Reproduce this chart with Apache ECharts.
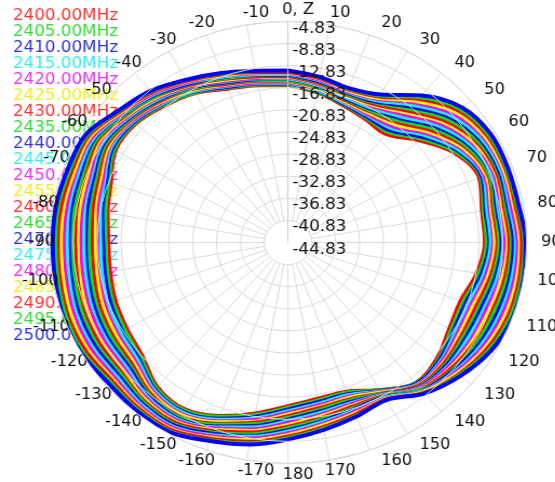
<!DOCTYPE html>
<html>
<head>
<meta charset="utf-8">
<script src="https://cdn.jsdelivr.net/npm/echarts@6/dist/echarts.min.js"></script>
<style>
html,body{margin:0;padding:0;background:#fff;overflow:hidden;}
#c{width:514px;height:482px;transform:scaleX(1.08);transform-origin:0 0;}
</style>
</head>
<body>
<div id="c"></div>
<script>
// angles (deg, clockwise from top)
const angles = [0,10,20,30,40,50,60,70,80,90,100,110,120,130,140,150,160,170,180,190,200,210,220,230,240,250,260,270,280,290,300,310,320,330,340,350];
const freqNames = ['2400.00MHz','2405.00MHz','2410.00MHz','2415.00MHz','2420.00MHz','2425.00MHz','2430.00MHz','2435.00MHz','2440.00MHz','2445.00MHz','2450.00MHz','2455.00MHz','2460.00MHz','2465.00MHz','2470.00MHz','2475.00MHz','2480.00MHz','2485.00MHz','2490.00MHz','2495.00MHz','2500.00MHz'];
const radialTicks = [-44.83,-40.83,-36.83,-32.83,-28.83,-24.83,-20.83,-16.83,-12.83,-8.83,-4.83];

const s2400 = [-16.4,-17.3,-18.4,-19.1,-19.3,-16.2,-12.6,-10.8,-11.9,-11.9,-12.8,-14.1,-13.7,-12.3,-11.7,-14.1,-16.2,-16.2,-15.3,-13.5,-11.5,-10.1,-10.8,-13.0,-13.7,-14.1,-14.6,-14.8,-14.2,-13.3,-11.5,-11.5,-12.6,-13.7,-15.3,-16.0];
const s2405 = [-16.3,-17.2,-18.2,-18.8,-18.8,-15.7,-12.3,-10.5,-11.6,-11.6,-12.4,-13.6,-13.3,-12.0,-11.6,-14.0,-16.0,-15.9,-15.0,-13.2,-11.3,-9.9,-10.5,-12.6,-13.3,-13.6,-14.1,-14.3,-13.8,-12.9,-11.2,-11.3,-12.4,-13.6,-15.1,-15.9];
const s2410 = [-16.1,-17.0,-18.1,-18.6,-18.4,-15.3,-11.9,-10.3,-11.3,-11.2,-12.0,-13.2,-12.9,-11.8,-11.5,-13.9,-15.7,-15.6,-14.7,-12.9,-11.0,-9.6,-10.2,-12.2,-12.8,-13.2,-13.7,-13.9,-13.3,-12.5,-10.9,-11.1,-12.2,-13.4,-15.0,-15.7];
const s2415 = [-16.0,-16.9,-17.9,-18.3,-17.9,-14.8,-11.6,-10.0,-11.0,-10.9,-11.6,-12.7,-12.5,-11.5,-11.3,-13.8,-15.5,-15.3,-14.4,-12.6,-10.8,-9.4,-10.0,-11.9,-12.4,-12.7,-13.2,-13.4,-12.9,-12.1,-10.6,-10.9,-12.1,-13.3,-14.8,-15.6];
const s2420 = [-15.9,-16.7,-17.7,-18.1,-17.5,-14.3,-11.2,-9.8,-10.6,-10.5,-11.2,-12.2,-12.1,-11.3,-11.2,-13.7,-15.2,-15.0,-14.1,-12.3,-10.5,-9.1,-9.7,-11.5,-11.9,-12.2,-12.7,-12.9,-12.4,-11.8,-10.3,-10.7,-11.9,-13.1,-14.7,-15.5];
const s2425 = [-15.7,-16.6,-17.6,-17.8,-17.0,-13.9,-10.9,-9.5,-10.3,-10.2,-10.8,-11.8,-11.7,-11.0,-11.1,-13.6,-15.0,-14.7,-13.8,-12.0,-10.3,-8.9,-9.4,-11.1,-11.5,-11.8,-12.3,-12.5,-12.0,-11.4,-10.1,-10.5,-11.7,-13.0,-14.5,-15.3];
const s2430 = [-15.6,-16.4,-17.4,-17.5,-16.5,-13.4,-10.5,-9.2,-10.0,-9.8,-10.4,-11.3,-11.3,-10.8,-11.0,-13.4,-14.7,-14.5,-13.5,-11.8,-10.0,-8.6,-9.1,-10.7,-11.0,-11.3,-11.8,-12.0,-11.6,-11.0,-9.8,-10.4,-11.5,-12.8,-14.4,-15.2];
const s2435 = [-15.5,-16.3,-17.2,-17.3,-16.1,-12.9,-10.2,-9.0,-9.7,-9.5,-10.0,-10.8,-10.9,-10.5,-10.8,-13.3,-14.5,-14.2,-13.2,-11.5,-9.8,-8.4,-8.8,-10.3,-10.6,-10.8,-11.3,-11.5,-11.1,-10.6,-9.5,-10.2,-11.3,-12.7,-14.2,-15.1];
const s2440 = [-15.3,-16.1,-17.1,-17.0,-15.6,-12.4,-9.8,-8.7,-9.4,-9.1,-9.6,-10.4,-10.5,-10.3,-10.7,-13.2,-14.2,-13.9,-12.9,-11.2,-9.5,-8.1,-8.6,-10.0,-10.1,-10.4,-10.8,-11.0,-10.7,-10.2,-9.2,-10.0,-11.2,-12.5,-14.1,-14.9];
const s2445 = [-15.2,-16.0,-16.9,-16.8,-15.2,-12.0,-9.5,-8.5,-9.1,-8.8,-9.2,-9.9,-10.1,-10.0,-10.6,-13.1,-14.0,-13.6,-12.6,-10.9,-9.3,-7.9,-8.3,-9.6,-9.7,-9.9,-10.4,-10.6,-10.2,-9.8,-8.9,-9.8,-11.0,-12.4,-13.9,-14.8];
const s2450 = [-15.0,-15.8,-16.7,-16.5,-14.7,-11.5,-9.1,-8.2,-8.8,-8.5,-8.8,-9.5,-9.6,-9.8,-10.5,-13.0,-13.8,-13.3,-12.3,-10.6,-9.1,-7.7,-8.0,-9.2,-9.3,-9.5,-9.9,-10.1,-9.8,-9.5,-8.6,-9.6,-10.8,-12.3,-13.8,-14.7];
const s2455 = [-14.9,-15.7,-16.6,-16.2,-14.2,-11.0,-8.8,-7.9,-8.4,-8.1,-8.4,-9.0,-9.2,-9.5,-10.3,-12.9,-13.5,-13.0,-11.9,-10.3,-8.8,-7.4,-7.7,-8.8,-8.8,-9.0,-9.4,-9.6,-9.4,-9.1,-8.3,-9.4,-10.6,-12.1,-13.6,-14.5];
const s2460 = [-14.8,-15.6,-16.4,-16.0,-13.8,-10.6,-8.4,-7.7,-8.1,-7.8,-8.0,-8.5,-8.8,-9.3,-10.2,-12.8,-13.3,-12.7,-11.6,-10.0,-8.6,-7.2,-7.4,-8.4,-8.4,-8.5,-9.0,-9.2,-8.9,-8.7,-8.0,-9.2,-10.4,-12.0,-13.4,-14.4];
const s2465 = [-14.6,-15.4,-16.3,-15.7,-13.3,-10.1,-8.1,-7.4,-7.8,-7.4,-7.6,-8.1,-8.4,-9.0,-10.1,-12.7,-13.0,-12.4,-11.3,-9.7,-8.3,-6.9,-7.2,-8.1,-7.9,-8.1,-8.5,-8.7,-8.5,-8.3,-7.7,-9.0,-10.3,-11.8,-13.3,-14.2];
const s2470 = [-14.5,-15.3,-16.1,-15.5,-12.9,-9.6,-7.7,-7.2,-7.5,-7.1,-7.2,-7.6,-8.0,-8.8,-9.9,-12.6,-12.8,-12.1,-11.0,-9.4,-8.1,-6.7,-6.9,-7.7,-7.5,-7.6,-8.0,-8.2,-8.0,-7.9,-7.4,-8.8,-10.1,-11.7,-13.1,-14.1];
const s2475 = [-14.4,-15.1,-15.9,-15.2,-12.4,-9.2,-7.4,-6.9,-7.2,-6.7,-6.8,-7.1,-7.6,-8.5,-9.8,-12.5,-12.5,-11.9,-10.7,-9.2,-7.8,-6.4,-6.6,-7.3,-7.0,-7.1,-7.6,-7.8,-7.6,-7.5,-7.2,-8.7,-9.9,-11.5,-13.0,-14.0];
const s2480 = [-14.2,-15.0,-15.8,-14.9,-11.9,-8.7,-7.0,-6.6,-6.9,-6.4,-6.4,-6.7,-7.2,-8.3,-9.7,-12.3,-12.3,-11.6,-10.4,-8.9,-7.6,-6.2,-6.3,-6.9,-6.6,-6.7,-7.1,-7.3,-7.2,-7.1,-6.9,-8.5,-9.7,-11.4,-12.8,-13.8];
const s2485 = [-14.1,-14.8,-15.6,-14.7,-11.5,-8.2,-6.7,-6.4,-6.5,-6.0,-6.0,-6.2,-6.8,-8.0,-9.6,-12.2,-12.0,-11.3,-10.1,-8.6,-7.3,-5.9,-6.0,-6.5,-6.1,-6.2,-6.6,-6.8,-6.7,-6.8,-6.6,-8.3,-9.5,-11.2,-12.7,-13.7];
const s2490 = [-14.0,-14.7,-15.4,-14.4,-11.0,-7.7,-6.3,-6.1,-6.2,-5.7,-5.6,-5.7,-6.4,-7.7,-9.4,-12.1,-11.8,-11.0,-9.8,-8.3,-7.1,-5.7,-5.8,-6.2,-5.7,-5.7,-6.1,-6.3,-6.3,-6.4,-6.3,-8.1,-9.4,-11.1,-12.5,-13.6];
const s2495 = [-13.8,-14.5,-15.3,-14.2,-10.6,-7.3,-6.0,-5.9,-5.9,-5.3,-5.2,-5.3,-6.0,-7.5,-9.3,-12.0,-11.5,-10.7,-9.5,-8.0,-6.8,-5.4,-5.5,-5.8,-5.2,-5.3,-5.7,-5.9,-5.8,-6.0,-6.0,-7.9,-9.2,-10.9,-12.4,-13.4];
const s2500 = [-13.7,-14.4,-15.1,-13.9,-10.1,-6.8,-5.6,-5.6,-5.6,-5.0,-4.8,-4.8,-5.6,-7.2,-9.2,-11.9,-11.3,-10.4,-9.2,-7.7,-6.6,-5.2,-5.2,-5.4,-4.8,-4.8,-5.2,-5.4,-5.4,-5.6,-5.7,-7.7,-9.0,-10.8,-12.2,-13.3];

const seriesValues = [s2400,s2405,s2410,s2415,s2420,s2425,s2430,s2435,s2440,s2445,s2450,s2455,s2460,s2465,s2470,s2475,s2480,s2485,s2490,s2495,s2500];
const lineColors = ['#ff0000','#00e600','#0000ff','#00ffff','#ff00ff','#ffff00'];
const textColors = ['#ff3333','#33dd33','#3333dd','#33eeee','#ee33ee','#eeee22'];

const FONT = 'DejaVu Sans';
const cx = 266.7, cy = 242.5, R = 221;
const labelCx = 276.0;   // angle-label ring centre

function angleLabel(v){
  if (v === 0) return '0, Z';
  if (v === 90) return '90, Y';
  if (v > 180) return String(v - 360);
  return String(v);
}

const series = seriesValues.map((vals, i) => {
  const data = angles.map((a, j) => [vals[j], a]);
  data.push([vals[0], 360]);
  const last = i === seriesValues.length - 1;
  return {
    name: freqNames[i], type: 'line', coordinateSystem: 'polar', polarIndex: 0,
    data: data, showSymbol: false, symbol: 'none', smooth: 0.35, clip: false,
    lineStyle: { color: lineColors[i % 6], width: last ? 4 : 3 }, itemStyle: { color: lineColors[i % 6] },
    z: 2, silent: true, animation: false
  };
});

const chart = echarts.init(document.getElementById('c'));
chart.setOption({
  animation: false,
  backgroundColor: '#fff',
  legend: {
    orient: 'vertical', left: 7, top: 8, z: 0, padding: 0,
    icon: 'none', itemWidth: 0, itemHeight: 13.2, itemGap: 0,
    selectedMode: false,
    data: freqNames.map((n, i) => ({ name: n, textStyle: { color: textColors[i % 6] } })),
    textStyle: { fontFamily: FONT, fontSize: 15.5, lineHeight: 13.2 }
  },
  polar: [
    { center: [cx, cy], radius: R },
    { center: [cx, cy], radius: [22, R] },
    { center: [labelCx, cy], radius: R }
  ],
  angleAxis: [
    { polarIndex: 0, type: 'value', min: 0, max: 360, interval: 10, startAngle: 90, clockwise: true,
      axisLine: { show: true, lineStyle: { color: '#d6d6d6', width: 1 } }, axisTick: { show: false },
      axisLabel: { show: false }, splitLine: { show: false } },
    { polarIndex: 1, type: 'value', min: 0, max: 360, interval: 10, startAngle: 90, clockwise: true,
      axisLine: { show: false }, axisTick: { show: false }, axisLabel: { show: false },
      splitLine: { show: true, lineStyle: { color: '#dcdcdc', width: 1 } } },
    { polarIndex: 2, type: 'value', min: 0, max: 360, interval: 10, startAngle: 90, clockwise: true, z: 3,
      axisLine: { show: false }, axisTick: { show: false }, splitLine: { show: false },
      axisLabel: { show: true, margin: 4, formatter: angleLabel,
        color: '#111', fontSize: 15, fontFamily: FONT } }
  ],
  radiusAxis: [
    { polarIndex: 0, type: 'value', min: radialTicks[0], max: radialTicks[radialTicks.length - 1], interval: 4, z: 4,
      axisLine: { show: true, lineStyle: { color: '#d0d0d0', width: 1 } }, axisTick: { show: false },
      splitLine: { show: true, lineStyle: { color: '#dcdcdc', width: 1 } },
      axisLabel: { show: true, margin: -4, align: 'left', verticalAlign: 'top', lineHeight: 14,
        formatter: v => Number(v).toFixed(2), color: '#111', fontSize: 15.5, fontFamily: FONT } },
    { polarIndex: 1, type: 'value', min: -40.83, max: -4.83, show: false, axisLine:{show:false}, splitLine:{show:false}, axisLabel:{show:false} },
    { polarIndex: 2, type: 'value', min: -44.83, max: -4.83, show: false, axisLine:{show:false}, splitLine:{show:false}, axisLabel:{show:false} }
  ],
  series: series
});
</script>
</body>
</html>
